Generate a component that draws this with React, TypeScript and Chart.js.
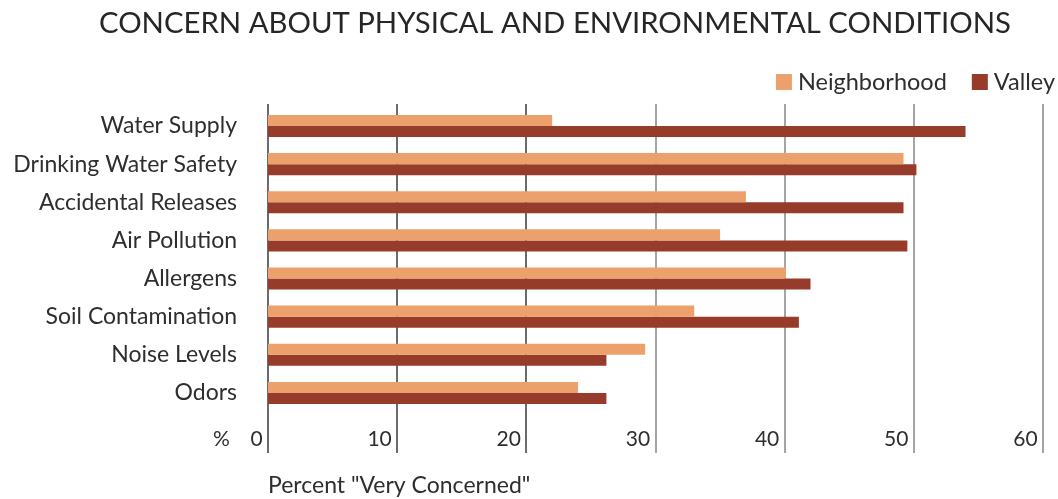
import React, { useEffect, useRef } from 'react';
import { Chart, registerables } from 'chart.js';

Chart.register(...registerables);

const chartTitle = 'CONCERN ABOUT PHYSICAL AND ENVIRONMENTAL CONDITIONS';
const categories = [
  'Water Supply',
  'Drinking Water Safety',
  'Accidental Releases',
  'Air Pollution',
  'Allergens',
  'Soil Contamination',
  'Noise Levels',
  'Odors',
];
const seriesNames = ['Neighborhood', 'Valley'];
const neighborhood = [22, 49.2, 37, 35, 40.1, 33, 29.2, 24];
const valley = [54, 50.2, 49.2, 49.5, 42, 41.1, 26.2, 26.2];
const xMin = 0;
const xMax = 60;
const xStep = 10;
const axisTitle = 'Percent "Very Concerned"';
const unitLabel = '%';

const FONT = 'Lato, "Open Sans", sans-serif';
const TEXT = '#2e2e2e';
const COLORS = ['#ECA06C', '#973B2A'];

const TICK_FONT = 21;
const TICK_PAD = 15;

const gridPlugin = {
  id: 'customGrid',
  beforeDatasetsDraw(chart: any) {
    const { ctx, chartArea, scales } = chart;
    const x = scales.x;
    ctx.save();
    x.ticks.forEach((t: any) => {
      const px = Math.round(x.getPixelForValue(t.value));
      ctx.strokeStyle = t.value <= 20 ? '#474747' : '#8e8e8e';
      ctx.lineWidth = 1.6;
      ctx.beginPath();
      ctx.moveTo(px, chartArea.top - 3);
      ctx.lineTo(px, chartArea.bottom + 41);
      ctx.stroke();
    });
    ctx.restore();
  },
};

const extrasPlugin = {
  id: 'extras',
  afterLayout(chart: any) {
    const t = chart.titleBlock;
    if (t) {
      const shift = 555 - (t.left + t.right) / 2;
      t.left += shift;
      t.right += shift;
    }
  },
  afterDraw(chart: any) {
    const { ctx, chartArea } = chart;
    ctx.save();
    // unit label beside tick labels
    ctx.font = `${TICK_FONT}px ${FONT}`;
    ctx.fillStyle = TEXT;
    ctx.textBaseline = 'middle';
    ctx.textAlign = 'left';
    const tickY = chartArea.bottom + TICK_PAD + (TICK_FONT * 1.2) / 2;
    ctx.fillText(unitLabel, 213, tickY);

    // legend (right aligned)
    const legendFont = 23.5;
    ctx.font = `${legendFont}px ${FONT}`;
    const box = 16;
    const boxGap = 6;
    const itemGap = 25;
    const cy = 82;
    let right = chart.width - 3;
    const items = chart.data.datasets.map((d: any) => ({ label: d.label, color: d.backgroundColor }));
    for (let i = items.length - 1; i >= 0; i--) {
      const w = ctx.measureText(items[i].label).width;
      const textX = right - w;
      const boxX = textX - boxGap - box;
      ctx.fillStyle = items[i].color;
      ctx.fillRect(boxX, cy - box / 2, box, box);
      ctx.fillStyle = TEXT;
      ctx.textAlign = 'left';
      ctx.fillText(items[i].label, textX, cy);
      right = boxX - itemGap;
    }
    ctx.restore();
  },
};

export default function App() {
  const ref = useRef<HTMLCanvasElement>(null);

  useEffect(() => {
    if (!ref.current) return;
    const chart = new Chart(ref.current, {
      type: 'bar',
      data: {
        labels: categories,
        datasets: [
          { label: seriesNames[0], data: neighborhood, backgroundColor: COLORS[0], borderWidth: 0 },
          { label: seriesNames[1], data: valley, backgroundColor: COLORS[1], borderWidth: 0 },
        ],
      },
      options: {
        indexAxis: 'y',
        responsive: true,
        maintainAspectRatio: false,
        animation: false,
        datasets: { bar: { categoryPercentage: 0.58, barPercentage: 1 } },
        layout: { padding: { left: 0, right: 3, top: 0, bottom: 0 } },
        plugins: {
          legend: { display: false },
          tooltip: { enabled: false },
          title: {
            display: true,
            text: chartTitle,
            color: '#262626',
            font: { family: FONT, size: 29.3, weight: 'normal' },
            padding: { top: 6.4, bottom: 65.4 },
          },
        },
        scales: {
          x: {
            type: 'linear',
            position: 'bottom',
            min: xMin,
            max: xMax,
            grid: { display: false, drawTicks: false },
            border: { display: false },
            ticks: {
              stepSize: xStep,
              align: 'end',
              maxRotation: 0,
              autoSkip: false,
              padding: TICK_PAD,
              color: TEXT,
              font: { family: FONT, size: TICK_FONT },
              callback: (v: any) => `${v} `,
            },
            title: {
              display: true,
              text: axisTitle,
              align: 'start',
              color: TEXT,
              font: { family: FONT, size: 23 },
              padding: { top: 0, bottom: 0 },
            },
            afterFit: (s: any) => {
              s.height = 87;
            },
          },
          y: {
            type: 'category',
            grid: { display: false, drawTicks: false },
            border: { display: false },
            ticks: {
              padding: 31,
              color: TEXT,
              font: { family: FONT, size: 23 },
            },
            afterFit: (s: any) => {
              s.width = 268;
            },
          },
        },
      },
      plugins: [gridPlugin, extrasPlugin],
    });
    return () => chart.destroy();
  }, []);

  return (
    <div style={{ position: 'fixed', left: 0, top: 0, width: 1058, height: 499, background: '#fff' }}>
      <canvas ref={ref} />
    </div>
  );
}
